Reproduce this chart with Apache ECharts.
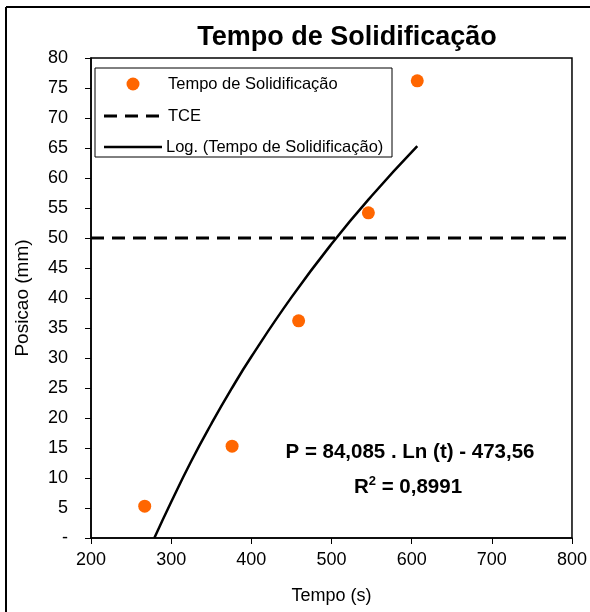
<!DOCTYPE html>
<html>
<head>
<meta charset="utf-8">
<script src="https://cdn.jsdelivr.net/npm/echarts@6/dist/echarts.min.js"></script>
<style>html,body{margin:0;padding:0;background:#fff}#c{width:590px;height:612px}</style>
</head>
<body>
<div id="c"></div>
<script>
// Observed points (Tempo s, Posicao mm)
const tempo = [267, 376, 459, 546, 607];
const posicao = [5.3, 15.3, 36.2, 54.2, 76.2];
// Logarithmic trend line points
const trendTempo = [279, 300, 325, 350, 375, 400, 450, 500, 550, 607];
const trendPos = [0, 6.0, 12.8, 19.0, 24.8, 30.2, 40.1, 49.0, 57.0, 65.3];
// TCE reference line
const tceTempo = [200, 800];
const tcePos = [50, 50];
const yTicks = [0,5,10,15,20,25,30,35,40,45,50,55,60,65,70,75,80];

const FONT = 'Liberation Sans, Arial, sans-serif';
const chart = echarts.init(document.getElementById('c'), null, {renderer: 'canvas'});
const zip = (a, b) => a.map((v, i) => [v, b[i]]);

chart.setOption({
  animation: false,
  backgroundColor: '#fff',
  title: {
    text: 'Tempo de Solidificação', left: 342, top: 19, textAlign: 'center',
    textStyle: {fontFamily: FONT, fontSize: 27, fontWeight: 'bold', color: '#000'}
  },
  grid: {left: 91, right: 18, top: 58, bottom: 74, show: true, borderColor: '#000', borderWidth: 1.5, backgroundColor: 'transparent'},
  xAxis: {
    type: 'value', min: 200, max: 800, interval: 100,
    name: 'Tempo (s)', nameLocation: 'middle', nameGap: 49,
    nameTextStyle: {fontFamily: FONT, fontSize: 18, color: '#000'},
    axisLine: {lineStyle: {color: '#000', width: 1.5}},
    axisTick: {inside: false, length: 6, lineStyle: {color: '#000'}},
    axisLabel: {fontFamily: FONT, fontSize: 18, color: '#000', margin: 13},
    splitLine: {show: false}
  },
  yAxis: {
    type: 'value', min: 0, max: 80, interval: 5,
    name: 'Posicao (mm)', nameLocation: 'middle', nameGap: 68, nameRotate: 90,
    nameTextStyle: {fontFamily: FONT, fontSize: 19, color: '#000', verticalAlign: 'middle'},
    axisLine: {lineStyle: {color: '#000', width: 1.5}},
    axisTick: {inside: false, length: 6, lineStyle: {color: '#000'}},
    axisLabel: {fontFamily: FONT, fontSize: 18, color: '#000', margin: 23,
      formatter: v => (yTicks.indexOf(v) >= 0 && v === 0) ? '-' : String(v)},
    splitLine: {show: false}
  },
  legend: {show: false},
  series: [
    {
      name: 'TCE', type: 'line', data: zip(tceTempo, tcePos), symbol: 'none',
      lineStyle: {color: '#000', width: 3, type: [13, 8]}, z: 2
    },
    {
      name: 'Log. (Tempo de Solidificação)', type: 'line', data: zip(trendTempo, trendPos),
      symbol: 'none', smooth: true, lineStyle: {color: '#000', width: 2.5}, z: 3
    },
    {
      name: 'Tempo de Solidificação', type: 'scatter', data: zip(tempo, posicao),
      symbolSize: 13, itemStyle: {color: '#ff6600', opacity: 1}, z: 4
    }
  ],
  graphic: [
    {type: 'line', shape: {x1: 6, y1: 7, x2: 590, y2: 7}, style: {stroke: '#000', lineWidth: 2}},
    {type: 'line', shape: {x1: 6, y1: 7, x2: 6, y2: 612}, style: {stroke: '#000', lineWidth: 2}},
    {type: 'rect', shape: {x: 95, y: 68, width: 297, height: 89}, style: {fill: '#fff', stroke: '#000', lineWidth: 1}, z: 10},
    {type: 'circle', shape: {cx: 133, cy: 84, r: 6.5}, style: {fill: '#ff6600'}, z: 11},
    {type: 'text', style: {x: 168, y: 84, text: 'Tempo de Solidificação', font: '16.5px ' + FONT, fill: '#000', verticalAlign: 'middle'}, z: 11},
    {type: 'line', shape: {x1: 104, y1: 116, x2: 162, y2: 116}, style: {stroke: '#000', lineWidth: 3, lineDash: [13, 8]}, z: 11},
    {type: 'text', style: {x: 168, y: 116, text: 'TCE', font: '16.5px ' + FONT, fill: '#000', verticalAlign: 'middle'}, z: 11},
    {type: 'line', shape: {x1: 104, y1: 147, x2: 162, y2: 147}, style: {stroke: '#000', lineWidth: 2.5}, z: 11},
    {type: 'text', style: {x: 166, y: 147, text: 'Log. (Tempo de Solidificação)', font: '16.5px ' + FONT, fill: '#000', verticalAlign: 'middle'}, z: 11},
    {type: 'text', style: {x: 410, y: 452, text: 'P = 84,085 . Ln (t) - 473,56', font: 'bold 20.5px ' + FONT, fill: '#000', align: 'center', verticalAlign: 'middle'}, z: 11},
    {type: 'text', style: {x: 408, y: 487, text: '{r|R}{s|2}{r| = 0,8991}', align: 'center', verticalAlign: 'middle',
      rich: {r: {fontFamily: FONT, fontSize: 20.5, fontWeight: 'bold', color: '#000'},
             s: {fontFamily: FONT, fontSize: 13, fontWeight: 'bold', color: '#000', verticalAlign: 'top', padding: [0,0,12,0]}}}, z: 11}
  ]
});
</script>
</body>
</html>
